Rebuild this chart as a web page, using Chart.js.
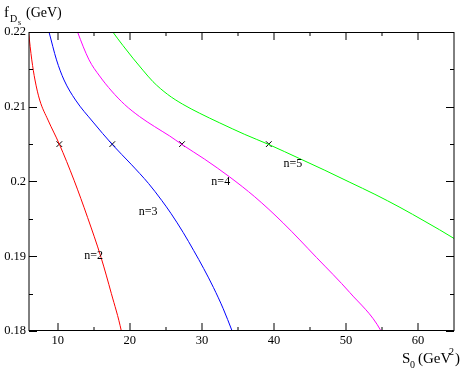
<!DOCTYPE html>
<html><head><meta charset="utf-8">
<script src="https://cdn.jsdelivr.net/npm/chart.js@4"></script>
<style>html,body{margin:0;padding:0;background:#fff;overflow:hidden}</style>
</head><body>
<canvas id="c" width="464" height="370"></canvas>
<script>
// ---- data ----
const xMajorTicks = [10, 20, 30, 40, 50, 60];
const xMinorTicks = [15, 25, 35, 45, 55];
const yMajorTicks = [0.18, 0.19, 0.20, 0.21, 0.22];
const yTickLabels = ['0.18', '0.19', '0.2', '0.21', '0.22'];
const yMinorTicks = [0.185, 0.195, 0.205, 0.215];

const n2X = [5.86, 5.93, 6.386, 6.831, 7.484, 8.638, 10.21, 12.252, 14.129, 16.005, 17.437, 18.813, 18.99];
const n2Y = [0.22056, 0.2200, 0.21627, 0.21358, 0.21090, 0.20822, 0.20500, 0.20017, 0.19520, 0.18983, 0.18500, 0.18003, 0.1791];
const n3X = [8.57, 8.777, 9.819, 10.862, 12.460, 14.893, 17.562, 20.175, 22.608, 24.415, 25.736, 27.404, 28.864, 30.254, 31.616, 32.964, 34.187, 34.56];
const n3Y = [0.2207, 0.2200, 0.21627, 0.21358, 0.21090, 0.20795, 0.20495, 0.20231, 0.19972, 0.19748, 0.19569, 0.19318, 0.19076, 0.18835, 0.18580, 0.18298, 0.18003, 0.1791];
const n4X = [12.53, 12.738, 14.337, 15.796, 17.465, 19.272, 21.357, 23.442, 25.527, 27.237, 30.392, 33.867, 37.342, 41.276, 45.919, 50.548, 54.857, 55.27];
const n4Y = [0.22056, 0.2200, 0.21627, 0.21412, 0.21211, 0.21030, 0.20868, 0.20734, 0.20609, 0.20495, 0.20298, 0.20060, 0.19795, 0.19446, 0.18983, 0.18513, 0.18003, 0.1791];
const n5X = [17.33, 17.645, 19.035, 20.425, 21.815, 23.206, 25.249, 27.334, 29.697, 32.477, 35.953, 39.289, 43.598, 47.073, 50.548, 54.023, 57.498, 60.973, 65.004, 66.53];
const n5Y = [0.22043, 0.21999, 0.21820, 0.21650, 0.21489, 0.21336, 0.21165, 0.21034, 0.20913, 0.20784, 0.20630, 0.20495, 0.20305, 0.20150, 0.19989, 0.19828, 0.19654, 0.19466, 0.19238, 0.1914];

const markX = [10.21, 17.56, 27.24, 39.29];
const markY = [0.205, 0.205, 0.205, 0.205];

const curveLabels = ['n=2', 'n=3', 'n=4', 'n=5'];
const curveLabelX = [14.96, 22.54, 32.62, 42.62];
const curveLabelY = [0.1901, 0.1959, 0.1999, 0.2024];

const seriesColors = ['#ff0000', '#0000ff', '#ff00ff', '#00ff00'];

// ---- build ----
const pts = (xs, ys) => xs.map((x, i) => ({x: x, y: ys[i]}));
const curves = [[n2X, n2Y], [n3X, n3Y], [n4X, n4Y], [n5X, n5Y]];
const SERIF = '"Liberation Serif", "DejaVu Serif", serif';

const datasets = curves.map((c, i) => ({
  type: 'line',
  label: curveLabels[i],
  data: pts(c[0], c[1]),
  borderColor: seriesColors[i],
  borderWidth: 1,
  pointRadius: 0,
  cubicInterpolationMode: 'monotone',
  fill: false
}));
datasets.push({
  type: 'scatter',
  label: 'marks',
  data: pts(markX, markY),
  pointStyle: 'crossRot',
  pointRadius: 4,
  borderColor: '#000',
  borderWidth: 1,
  backgroundColor: '#000'
});

const framePlugin = {
  id: 'frame',
  afterDatasetsDraw(chart) {
    const ctx = chart.ctx;
    const xs = chart.scales.x, ys = chart.scales.y;
    const a = chart.chartArea;
    const L = Math.round(a.left), R = Math.round(a.right);
    const T = Math.round(a.top), B = Math.round(a.bottom);
    ctx.save();
    ctx.strokeStyle = '#000';
    ctx.lineWidth = 1;
    const vtick = (v, len) => {
      const px = Math.round(xs.getPixelForValue(v));
      ctx.beginPath();
      ctx.moveTo(px, B); ctx.lineTo(px, B - len);
      ctx.moveTo(px, T); ctx.lineTo(px, T + len);
      ctx.stroke();
    };
    xMajorTicks.forEach(v => vtick(v, 8));
    xMinorTicks.forEach(v => vtick(v, 4));
    const htick = (v, len) => {
      const py = Math.round(ys.getPixelForValue(v)) + 0.5;
      ctx.beginPath();
      ctx.moveTo(L, py); ctx.lineTo(L + len, py);
      ctx.moveTo(R, py); ctx.lineTo(R - len, py);
      ctx.stroke();
    };
    yMajorTicks.forEach(v => htick(v, 8));
    yMinorTicks.forEach(v => htick(v, 4));
    ctx.beginPath();
    ctx.moveTo(L, T); ctx.lineTo(L, B);
    ctx.moveTo(R, T); ctx.lineTo(R, B);
    ctx.moveTo(L, T + 0.5); ctx.lineTo(R, T + 0.5);
    ctx.moveTo(L, B - 0.5); ctx.lineTo(R, B - 0.5);
    ctx.stroke();
    // curve labels
    ctx.fillStyle = '#000';
    ctx.font = '12px ' + SERIF;
    ctx.textAlign = 'center';
    ctx.textBaseline = 'middle';
    curveLabels.forEach((t, i) => {
      ctx.fillText(t, xs.getPixelForValue(curveLabelX[i]), ys.getPixelForValue(curveLabelY[i]));
    });
    // y axis title: f_{D_s} (GeV)
    ctx.textAlign = 'left';
    ctx.textBaseline = 'alphabetic';
    ctx.font = '15px ' + SERIF;
    ctx.fillText('f', 4, 17);
    ctx.font = '10px ' + SERIF;
    ctx.fillText('D', 10, 22);
    ctx.font = '8px ' + SERIF;
    ctx.fillText('s', 18, 25);
    ctx.font = '14px ' + SERIF;
    ctx.fillText('(GeV)', 26, 17);
    // x axis title: S_0 (GeV^2)
    ctx.font = '15px ' + SERIF;
    ctx.fillText('S', 402, 363);
    ctx.font = '10px ' + SERIF;
    ctx.fillText('0', 410, 368);
    ctx.font = '15px ' + SERIF;
    ctx.fillText('(GeV', 418, 363);
    ctx.font = '10px ' + SERIF;
    ctx.fillText('2', 449, 355);
    ctx.font = '15px ' + SERIF;
    ctx.fillText(')', 455, 363);
    ctx.restore();
  }
};

new Chart(document.getElementById('c'), {
  type: 'line',
  data: {datasets: datasets},
  options: {
    responsive: false,
    animation: false,
    devicePixelRatio: 1,
    layout: {padding: {left: 0, top: 32, right: 10, bottom: 0}},
    plugins: {legend: {display: false}, tooltip: {enabled: false}},
    scales: {
      x: {
        type: 'linear', min: 6, max: 65,
        grid: {display: false, drawTicks: false},
        border: {display: false},
        afterBuildTicks: s => { s.ticks = xMajorTicks.map(v => ({value: v})); },
        afterFit: s => { s.height = 39; },
        ticks: {
          padding: 2, color: '#000', maxRotation: 0, autoSkip: false,
          font: {family: SERIF, size: 12.5},
          callback: v => String(v)
        }
      },
      y: {
        type: 'linear', min: 0.18, max: 0.22,
        grid: {display: false, drawTicks: false},
        border: {display: false},
        afterBuildTicks: s => { s.ticks = yMajorTicks.map(v => ({value: v})); },
        afterFit: s => { s.width = 29; },
        ticks: {
          padding: 3, color: '#000', autoSkip: false,
          font: {family: SERIF, size: 12.5},
          callback: (v, i) => yTickLabels[i]
        }
      }
    }
  },
  plugins: [framePlugin]
});
</script>
</body></html>
